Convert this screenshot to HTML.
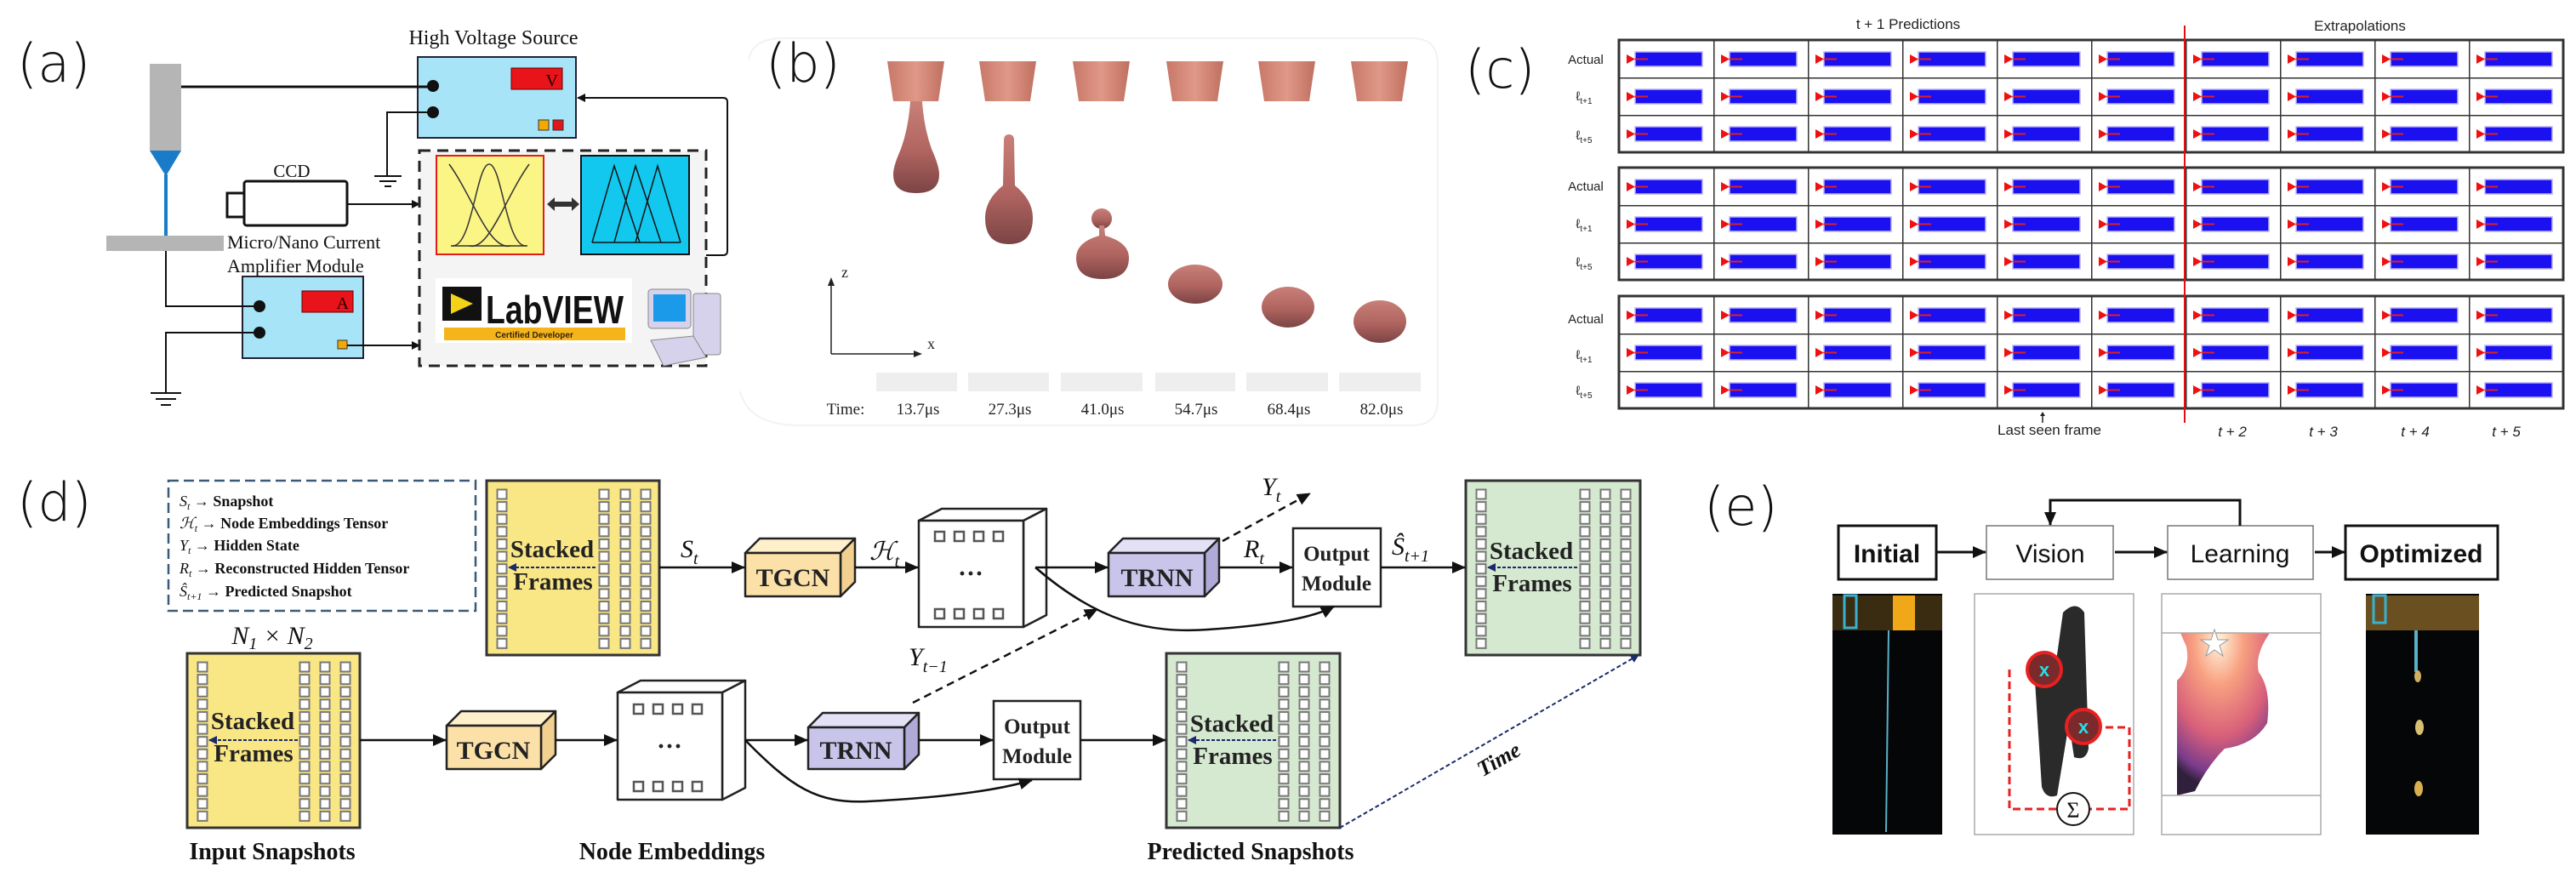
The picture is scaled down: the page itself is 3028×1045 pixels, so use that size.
<!DOCTYPE html>
<html><head><meta charset="utf-8"><style>
html,body{margin:0;padding:0;background:#fff;}
svg{display:block;}
.lab{font-family:"DejaVu Sans","Liberation Sans",sans-serif;font-size:62px;font-weight:200;fill:#111;}
.ser{font-family:"Liberation Serif",serif;}
.sans{font-family:"Liberation Sans",sans-serif;}
</style></head><body>
<svg width="3028" height="1045" viewBox="0 0 3028 1045" xmlns="http://www.w3.org/2000/svg">
<defs>
<marker id="ar" markerWidth="10" markerHeight="10" refX="9" refY="5" orient="auto" markerUnits="userSpaceOnUse"><path d="M0,0 L10,5 L0,10 z" fill="#111"/></marker>
<marker id="arB" markerWidth="16" markerHeight="14" refX="15" refY="7" orient="auto" markerUnits="userSpaceOnUse"><path d="M0,0 L16,7 L0,14 z" fill="#111"/></marker>
<marker id="arN" markerWidth="10" markerHeight="10" refX="9" refY="5" orient="auto" markerUnits="userSpaceOnUse"><path d="M0,0 L10,5 L0,10 z" fill="#1a2a6a"/></marker>
<pattern id="cellA" patternUnits="userSpaceOnUse" x="1903" y="47" width="111" height="44">
 <rect width="111" height="44" fill="#fff"/>
 <rect x="19" y="14" width="79" height="17" fill="#1a10f0" stroke="#b9b4f5" stroke-width="1.5"/>
 <path d="M9,17 L19,22.5 L9,28z" fill="#f01010"/><line x1="19" y1="22.5" x2="34" y2="22.5" stroke="#e02020" stroke-width="2"/>
 <path d="M0,0 V44 M0,0 H111" stroke="#333" stroke-width="3"/>
</pattern>
<pattern id="cellB" href="#cellA" y="197"/>
<pattern id="cellC" href="#cellA" y="348"/>
<pattern id="sq" patternUnits="objectBoundingBox" patternContentUnits="userSpaceOnUse" width="1" height="0.076923">
 <rect x="1.5" y="1.5" width="11" height="11" fill="#fff" stroke="#777" stroke-width="2"/>
</pattern>
<linearGradient id="drop" x1="0" y1="0" x2="0" y2="1"><stop offset="0" stop-color="#c88078"/><stop offset="0.55" stop-color="#b06460"/><stop offset="1" stop-color="#7a4444"/></linearGradient>
<linearGradient id="noz" x1="0" y1="0" x2="1" y2="0"><stop offset="0" stop-color="#c87868"/><stop offset="0.5" stop-color="#e09888"/><stop offset="1" stop-color="#c07060"/></linearGradient>
<radialGradient id="heat" cx="0.45" cy="0.05" r="0.9"><stop offset="0" stop-color="#fff4dc"/><stop offset="0.3" stop-color="#f8a080"/><stop offset="0.65" stop-color="#d8607a"/><stop offset="0.9" stop-color="#7a3c8c"/><stop offset="1" stop-color="#30203c"/></radialGradient>
</defs>

<!-- ================= (a) ================= -->
<text class="lab" x="20" y="96">(a)</text>
<text class="ser" x="580" y="52" font-size="24" text-anchor="middle" fill="#111">High Voltage Source</text>
<rect x="491" y="67" width="186" height="95" fill="#a8e4f8" stroke="#223" stroke-width="2"/>
<rect x="601" y="80" width="60" height="25" fill="#e8141a" stroke="#600" stroke-width="1"/>
<text class="ser" x="656" y="101" font-size="20" text-anchor="end" fill="#200">V</text>
<circle cx="509" cy="101" r="7" fill="#111"/><circle cx="509" cy="132" r="7" fill="#111"/>
<rect x="633" y="141" width="12" height="12" fill="#f5a800" stroke="#333"/><rect x="650" y="141" width="12" height="12" fill="#e01818" stroke="#333"/>
<rect x="176" y="75" width="37" height="102" fill="#b5b5b5"/>
<path d="M176,177 L213,177 L195,207z" fill="#1a7cc8"/>
<line x1="195" y1="205" x2="195" y2="278" stroke="#1a7cc8" stroke-width="4"/>
<rect x="125" y="277" width="138" height="18" fill="#b5b5b5"/>
<path d="M213,102 H509" stroke="#111" stroke-width="3" fill="none"/>
<path d="M509,132 H455 V207" stroke="#111" stroke-width="2" fill="none"/>
<path d="M440,207 H472 M446,213 H466 M452,219 H460" stroke="#111" stroke-width="2"/>
<text class="ser" x="343" y="208" font-size="21" text-anchor="middle" fill="#111">CCD</text>
<rect x="287" y="213" width="121" height="52" rx="3" fill="#fff" stroke="#111" stroke-width="3"/>
<rect x="267" y="227" width="20" height="28" fill="#fff" stroke="#111" stroke-width="3"/>
<line x1="408" y1="240" x2="493" y2="240" stroke="#111" stroke-width="2" marker-end="url(#ar)"/>
<rect x="493" y="177" width="337" height="253" fill="#f4f4f4" stroke="#222" stroke-width="3" stroke-dasharray="13,8"/>
<rect x="513" y="183" width="126" height="116" fill="#fbf585" stroke="#e31b1b" stroke-width="2"/>
<g stroke="#333" stroke-width="1.5" fill="none">
<path d="M528,193 C555,230 575,295 600,289"/><path d="M552,289 C575,295 595,230 622,193"/>
<path d="M532,289 C555,290 560,193 575,193 C590,193 595,290 618,289"/><path d="M530,289 H620"/>
</g>
<path d="M643,240 L652,232 V237 H672 V232 L681,240 L672,248 V243 H652 V248z" fill="#333"/>
<rect x="683" y="183" width="127" height="116" fill="#12c8ee" stroke="#111" stroke-width="2"/>
<g stroke="#111" stroke-width="1.5" fill="none">
<path d="M696,285 L722,195 L752,285 M722,285 L747,195 L777,285 M747,285 L773,195 L800,285 M696,285 H800"/>
</g>
<path d="M830,300 H850 Q855,300 855,295 V120 Q855,115 850,115 H679" stroke="#111" stroke-width="2" fill="none" marker-end="url(#ar)"/>
<rect x="512" y="327" width="231" height="76" fill="#fff"/>
<rect x="520" y="337" width="46" height="40" fill="#111"/>
<path d="M530,345 L556,357 L530,369z" fill="#f3d21a"/>
<text class="sans" x="571" y="380" font-size="46" font-weight="bold" fill="#111" textLength="162" lengthAdjust="spacingAndGlyphs">LabVIEW</text>
<rect x="522" y="385" width="213" height="15" fill="#f5b51a"/>
<text class="sans" x="628" y="397" font-size="10" font-weight="bold" text-anchor="middle" fill="#321">Certified Developer</text>
<rect x="762" y="340" width="50" height="46" rx="4" fill="#d6d2ec" stroke="#888"/>
<rect x="768" y="346" width="38" height="32" fill="#1a9ae8"/>
<rect x="815" y="345" width="32" height="72" rx="3" fill="#d6d2ec" stroke="#888"/>
<path d="M765,400 L815,395 L830,420 L780,430z" fill="#d6d2ec" stroke="#888"/>
<text class="ser" x="267" y="292" font-size="22" fill="#111">Micro/Nano Current</text>
<text class="ser" x="267" y="320" font-size="22" fill="#111">Amplifier Module</text>
<rect x="285" y="325" width="142" height="96" fill="#a8e4f8" stroke="#223" stroke-width="2"/>
<rect x="355" y="342" width="60" height="25" fill="#e8141a" stroke="#600"/>
<text class="ser" x="410" y="363" font-size="20" text-anchor="end" fill="#200">A</text>
<circle cx="305" cy="360" r="7" fill="#111"/><circle cx="305" cy="391" r="7" fill="#111"/>
<rect x="397" y="400" width="11" height="10" fill="#f5a800" stroke="#333"/>
<line x1="408" y1="406" x2="493" y2="406" stroke="#111" stroke-width="2" marker-end="url(#ar)"/>
<path d="M195,295 V360 H305" stroke="#111" stroke-width="2" fill="none"/>
<path d="M305,391 H195 V462" stroke="#111" stroke-width="2" fill="none"/>
<path d="M177,462 H213 M183,469 H207 M189,476 H201" stroke="#111" stroke-width="2"/>

<!-- ================= (b) ================= -->
<text class="lab" x="900" y="96">(b)</text>
<path d="M880,70 Q885,45 920,45 L1660,45 Q1690,45 1690,75 L1690,470 Q1690,500 1660,500 L940,500 Q880,500 870,460" fill="none" stroke="#f2f2f2" stroke-width="2"/>
<g fill="url(#noz)">
<path d="M1043,72 H1110 L1103,119 H1050z"/>
<path d="M1151,72 H1218 L1211,119 H1158z"/>
<path d="M1261,72 H1328 L1321,119 H1268z"/>
<path d="M1371,72 H1438 L1431,119 H1378z"/>
<path d="M1479,72 H1546 L1539,119 H1486z"/>
<path d="M1588,72 H1655 L1648,119 H1595z"/>
</g>
<g fill="url(#drop)">
<path d="M1070,119 H1084 Q1086,150 1095,175 Q1104,195 1104,205 Q1104,227 1077,227 Q1050,227 1050,205 Q1050,195 1059,175 Q1068,150 1070,119z"/>
<path d="M1180,165 Q1180,158 1186,158 Q1192,158 1192,165 L1193,218 Q1214,235 1214,256 Q1214,287 1186,287 Q1158,287 1158,256 Q1158,235 1179,218z"/>
<ellipse cx="1295" cy="257" rx="12" ry="12"/>
<path d="M1292,265 H1298 L1299,277 Q1327,285 1327,303 Q1327,328 1296,328 Q1265,328 1265,303 Q1265,285 1292,277z"/>
<ellipse cx="1405" cy="334" rx="32" ry="23"/>
<ellipse cx="1514" cy="361" rx="31" ry="24"/>
<ellipse cx="1622" cy="378" rx="31" ry="25"/>
</g>
<path d="M977,416 V330 M977,416 H1080" stroke="#222" stroke-width="1.5" fill="none"/>
<path d="M973,336 L977,326 L981,336z M1074,412 L1084,416 L1074,420z" fill="#222"/>
<text class="ser" x="989" y="326" font-size="18" fill="#222">z</text>
<text class="ser" x="1090" y="410" font-size="18" fill="#222">x</text>
<g fill="#eeeeee">
<rect x="1030" y="438" width="95" height="22"/><rect x="1138" y="438" width="95" height="22"/><rect x="1247" y="438" width="96" height="22"/>
<rect x="1358" y="438" width="94" height="22"/><rect x="1465" y="438" width="96" height="22"/><rect x="1574" y="438" width="96" height="22"/>
</g>
<g class="ser" font-size="19" fill="#222" text-anchor="middle">
<text x="994" y="487">Time:</text>
<text x="1079" y="487">13.7μs</text><text x="1187" y="487">27.3μs</text><text x="1296" y="487">41.0μs</text>
<text x="1406" y="487">54.7μs</text><text x="1515" y="487">68.4μs</text><text x="1624" y="487">82.0μs</text>
</g>

<!-- ================= (c) ================= -->
<text class="lab" x="1722" y="103">(c)</text>
<g class="sans" font-size="17" fill="#222" text-anchor="middle">
<text x="2243" y="34">t + 1 Predictions</text>
<text x="2774" y="36">Extrapolations</text>
<text x="2409" y="511">Last seen frame</text>
<text x="2624" y="513" font-style="italic">t + 2</text><text x="2731" y="513" font-style="italic">t + 3</text>
<text x="2839" y="513" font-style="italic">t + 4</text><text x="2946" y="513" font-style="italic">t + 5</text>
</g>
<g class="sans" font-size="15" fill="#222" text-anchor="middle">
<text x="1864" y="75">Actual</text><text x="1862" y="118">ℓ<tspan font-size="10" dy="4">t+1</tspan></text><text x="1862" y="164">ℓ<tspan font-size="10" dy="4">t+5</tspan></text>
<text x="1864" y="224">Actual</text><text x="1862" y="268">ℓ<tspan font-size="10" dy="4">t+1</tspan></text><text x="1862" y="313">ℓ<tspan font-size="10" dy="4">t+5</tspan></text>
<text x="1864" y="380">Actual</text><text x="1862" y="422">ℓ<tspan font-size="10" dy="4">t+1</tspan></text><text x="1862" y="464">ℓ<tspan font-size="10" dy="4">t+5</tspan></text>
</g>
<rect x="1903" y="47" width="1110" height="132" fill="url(#cellA)" stroke="#333" stroke-width="3"/>
<rect x="1903" y="197" width="1110" height="132" fill="url(#cellB)" stroke="#333" stroke-width="3"/>
<rect x="1903" y="348" width="1110" height="132" fill="url(#cellC)" stroke="#333" stroke-width="3"/>
<line x1="2568" y1="30" x2="2568" y2="497" stroke="#e01010" stroke-width="2"/>
<line x1="2401" y1="497" x2="2401" y2="486" stroke="#222" stroke-width="1.5"/><path d="M2398,489 L2401,484 L2404,489z" fill="#222"/>

<!-- ================= (d) ================= -->
<text class="lab" x="20" y="612">(d)</text>
<rect x="198" y="565" width="361" height="153" fill="#fff" stroke="#3c5a78" stroke-width="2.5" stroke-dasharray="12,6"/>
<g class="ser" font-size="18" font-weight="bold" fill="#111">
<text x="211" y="595"><tspan font-style="italic" font-weight="normal">S<tspan font-size="12" dy="4">t</tspan></tspan><tspan dy="-4"> → Snapshot</tspan></text>
<text x="211" y="621"><tspan font-style="italic" font-weight="normal">ℋ<tspan font-size="12" dy="4">t</tspan></tspan><tspan dy="-4"> → Node Embeddings  Tensor</tspan></text>
<text x="211" y="647"><tspan font-style="italic" font-weight="normal">Y<tspan font-size="12" dy="4">t</tspan></tspan><tspan dy="-4"> → Hidden  State</tspan></text>
<text x="211" y="674"><tspan font-style="italic" font-weight="normal">R<tspan font-size="12" dy="4">t</tspan></tspan><tspan dy="-4"> → Reconstructed  Hidden  Tensor</tspan></text>
<text x="211" y="701"><tspan font-style="italic" font-weight="normal">Ŝ<tspan font-size="12" dy="4">t+1</tspan></tspan><tspan dy="-4"> → Predicted  Snapshot</tspan></text>
</g>

<rect x="572" y="565" width="203" height="205" fill="#f9e685" stroke="#333" stroke-width="3"/>
<rect x="583" y="574" width="14" height="190" fill="url(#sq)"/><rect x="703" y="574" width="14" height="190" fill="url(#sq)"/>
<rect x="728" y="574" width="14" height="190" fill="url(#sq)"/><rect x="752" y="574" width="14" height="190" fill="url(#sq)"/>
<rect x="220" y="768" width="203" height="205" fill="#f9e685" stroke="#333" stroke-width="3"/>
<rect x="231" y="777" width="14" height="190" fill="url(#sq)"/><rect x="351" y="777" width="14" height="190" fill="url(#sq)"/>
<rect x="375" y="777" width="14" height="190" fill="url(#sq)"/><rect x="399" y="777" width="14" height="190" fill="url(#sq)"/>
<rect x="1723" y="565" width="205" height="205" fill="#d5e8d0" stroke="#333" stroke-width="3"/>
<rect x="1734" y="574" width="14" height="190" fill="url(#sq)"/><rect x="1856" y="574" width="14" height="190" fill="url(#sq)"/>
<rect x="1880" y="574" width="14" height="190" fill="url(#sq)"/><rect x="1904" y="574" width="14" height="190" fill="url(#sq)"/>
<rect x="1371" y="768" width="204" height="205" fill="#d5e8d0" stroke="#333" stroke-width="3"/>
<rect x="1382" y="777" width="14" height="190" fill="url(#sq)"/><rect x="1502" y="777" width="14" height="190" fill="url(#sq)"/>
<rect x="1526" y="777" width="14" height="190" fill="url(#sq)"/><rect x="1550" y="777" width="14" height="190" fill="url(#sq)"/>
<g class="ser" font-size="29" font-weight="bold" fill="#222" text-anchor="middle">
<text x="649" y="655">Stacked</text><text x="650" y="693">Frames</text>
<text x="297" y="857">Stacked</text><text x="298" y="895">Frames</text>
<text x="1800" y="657">Stacked</text><text x="1801" y="695">Frames</text>
<text x="1448" y="860">Stacked</text><text x="1449" y="898">Frames</text>
</g>
<g stroke="#1a2a6a" stroke-width="2" stroke-dasharray="4,2" marker-end="url(#arN)">
<line x1="700" y1="667" x2="598" y2="667"/><line x1="350" y1="870" x2="246" y2="870"/>
<line x1="1854" y1="667" x2="1749" y2="667"/><line x1="1500" y1="870" x2="1397" y2="870"/>
</g>
<text class="ser" x="320" y="757" font-size="30" font-style="italic" fill="#111" text-anchor="middle">N<tspan font-size="20" dy="6">1</tspan><tspan dy="-6"> × N</tspan><tspan font-size="20" dy="6">2</tspan></text>

<g stroke="#222" stroke-width="2.5" stroke-linejoin="round">
<path d="M876,650 L893,633 H1005 L988,650z" fill="#fff0cc"/><path d="M988,650 L1005,633 V684 L988,701z" fill="#f2d090"/><rect x="876" y="650" width="112" height="51" fill="#fbe0a8"/>
<path d="M525,853 L542,836 H653 L636,853z" fill="#fff0cc"/><path d="M636,853 L653,836 V887 L636,904z" fill="#f2d090"/><rect x="525" y="853" width="111" height="51" fill="#fbe0a8"/>
<path d="M1303,650 L1320,633 H1433 L1416,650z" fill="#e4e0f6"/><path d="M1416,650 L1433,633 V684 L1416,701z" fill="#b0aad8"/><rect x="1303" y="650" width="113" height="51" fill="#c8c4ea"/>
<path d="M950,855 L967,838 H1080 L1063,855z" fill="#e4e0f6"/><path d="M1063,855 L1080,838 V887 L1063,904z" fill="#b0aad8"/><rect x="950" y="855" width="113" height="49" fill="#c8c4ea"/>
<path d="M1080,612 L1107,598 H1230 L1203,612z" fill="#fff"/><path d="M1203,612 L1230,598 V723 L1203,737z" fill="#fff"/><rect x="1080" y="612" width="123" height="125" fill="#fff"/>
<path d="M726,814 L753,800 H876 L849,814z" fill="#fff"/><path d="M849,814 L876,800 V926 L849,940z" fill="#fff"/><rect x="726" y="814" width="123" height="126" fill="#fff"/>
</g>
<g fill="#fff" stroke="#555" stroke-width="2.5">
<rect x="1099" y="625" width="11" height="11"/><rect x="1122" y="625" width="11" height="11"/><rect x="1145" y="625" width="11" height="11"/><rect x="1168" y="625" width="11" height="11"/>
<rect x="1099" y="716" width="11" height="11"/><rect x="1122" y="716" width="11" height="11"/><rect x="1145" y="716" width="11" height="11"/><rect x="1168" y="716" width="11" height="11"/>
<rect x="745" y="828" width="11" height="11"/><rect x="768" y="828" width="11" height="11"/><rect x="791" y="828" width="11" height="11"/><rect x="814" y="828" width="11" height="11"/>
<rect x="745" y="919" width="11" height="11"/><rect x="768" y="919" width="11" height="11"/><rect x="791" y="919" width="11" height="11"/><rect x="814" y="919" width="11" height="11"/>
</g>
<g class="ser" font-weight="bold" fill="#222" text-anchor="middle">
<text x="932" y="689" font-size="30">TGCN</text><text x="580" y="892" font-size="30">TGCN</text>
<text x="1360" y="689" font-size="30">TRNN</text><text x="1006" y="892" font-size="30">TRNN</text>
<text x="1141" y="684" font-size="30">···</text><text x="787" y="887" font-size="30">···</text>
</g>
<rect x="1520" y="621" width="103" height="92" fill="#fff" stroke="#222" stroke-width="2.5"/>
<rect x="1168" y="824" width="102" height="92" fill="#fff" stroke="#222" stroke-width="2.5"/>
<g class="ser" font-size="25" font-weight="bold" fill="#222" text-anchor="middle">
<text x="1571" y="659">Output</text><text x="1571" y="694">Module</text>
<text x="1219" y="862">Output</text><text x="1219" y="897">Module</text>
</g>
<g stroke="#111" stroke-width="2.5" fill="none" marker-end="url(#arB)">
<line x1="775" y1="667" x2="875" y2="667"/><line x1="1005" y1="667" x2="1079" y2="667"/>
<line x1="1217" y1="667" x2="1302" y2="667"/><line x1="1433" y1="667" x2="1519" y2="667"/>
<line x1="1623" y1="667" x2="1722" y2="667"/>
<line x1="423" y1="870" x2="524" y2="870"/><line x1="653" y1="870" x2="725" y2="870"/>
<line x1="876" y1="870" x2="949" y2="870"/><line x1="1080" y1="870" x2="1167" y2="870"/>
<line x1="1270" y1="870" x2="1370" y2="870"/>
<path d="M1217,667 C1290,730 1350,745 1420,740 C1480,736 1540,728 1568,713"/>
<path d="M876,870 C930,925 960,945 1020,942 C1100,938 1170,930 1213,917"/>
</g>
<g stroke="#111" stroke-width="2.5" fill="none" stroke-dasharray="9,6" marker-end="url(#arB)">
<line x1="1437" y1="636" x2="1540" y2="580"/>
<line x1="1073" y1="826" x2="1290" y2="716"/>
</g>
<line x1="1575" y1="973" x2="1926" y2="770" stroke="#1a2a6a" stroke-width="2" stroke-dasharray="5,3" marker-end="url(#arN)"/>
<g class="ser" font-style="italic" fill="#111" font-size="30">
<text x="800" y="655">S<tspan font-size="20" dy="8">t</tspan></text>
<text x="1022" y="658">ℋ<tspan font-size="20" dy="8">t</tspan></text>
<text x="1462" y="655">R<tspan font-size="20" dy="8">t</tspan></text>
<text x="1636" y="652">Ŝ<tspan font-size="20" dy="8">t+1</tspan></text>
<text x="1483" y="582">Y<tspan font-size="20" dy="8">t</tspan></text>
<text x="1068" y="782">Y<tspan font-size="20" dy="8">t−1</tspan></text>
</g>
<text class="ser" x="1766" y="900" font-size="26" font-weight="bold" font-style="italic" fill="#111" text-anchor="middle" transform="rotate(-30 1766 900)">Time</text>
<g class="ser" font-size="28" font-weight="bold" fill="#111" text-anchor="middle">
<text x="320" y="1010">Input Snapshots</text><text x="790" y="1010">Node Embeddings</text><text x="1470" y="1010">Predicted Snapshots</text>
</g>

<!-- ================= (e) ================= -->
<text class="lab" x="2003" y="617">(e)</text>
<rect x="2161" y="618" width="115" height="63" fill="#fff" stroke="#111" stroke-width="3"/>
<rect x="2335" y="618" width="149" height="63" fill="#fff" stroke="#777" stroke-width="1.5"/>
<rect x="2548" y="618" width="171" height="63" fill="#fff" stroke="#777" stroke-width="1.5"/>
<rect x="2757" y="618" width="179" height="63" fill="#fff" stroke="#111" stroke-width="3"/>
<g class="sans" font-size="30" fill="#111" text-anchor="middle">
<text x="2218" y="661" font-weight="bold">Initial</text>
<text x="2410" y="661">Vision</text>
<text x="2633" y="661">Learning</text>
<text x="2846" y="661" font-weight="bold">Optimized</text>
</g>
<g stroke="#111" stroke-width="3" fill="none" marker-end="url(#arB)">
<line x1="2276" y1="649" x2="2334" y2="649"/><line x1="2486" y1="649" x2="2547" y2="649"/>
<line x1="2721" y1="649" x2="2756" y2="649"/>
<path d="M2633,618 V588 H2410 V617"/>
</g>
<rect x="2154" y="698" width="129" height="283" fill="#040608"/>
<rect x="2154" y="700" width="129" height="41" fill="#3a2c10"/><rect x="2225" y="700" width="26" height="41" fill="#f0a818"/>
<rect x="2168" y="700" width="14" height="38" fill="none" stroke="#3ab0d0" stroke-width="3"/>
<line x1="2220" y1="741" x2="2217" y2="978" stroke="#5ab0c8" stroke-width="2"/>
<rect x="2321" y="698" width="187" height="283" fill="#fff" stroke="#aaa" stroke-width="1.5"/>
<path d="M2425,720 Q2440,705 2450,720 L2455,880 Q2452,895 2438,890 L2432,850 L2418,935 Q2405,940 2400,925 L2392,800 Q2390,780 2410,780 L2418,770z" fill="#2a2a2a"/>
<path d="M2362,787 V951 H2425 M2450,951 H2503 V855 H2475" fill="none" stroke="#e82020" stroke-width="3" stroke-dasharray="9,5"/>
<circle cx="2403" cy="787" r="20" fill="#7a2a2a" stroke="#e82020" stroke-width="4"/><text class="sans" x="2403" y="795" font-size="22" font-weight="bold" fill="#20e0e8" text-anchor="middle">x</text>
<circle cx="2449" cy="854" r="20" fill="#7a2a2a" stroke="#e82020" stroke-width="4"/><text class="sans" x="2449" y="862" font-size="22" font-weight="bold" fill="#20e0e8" text-anchor="middle">x</text>
<circle cx="2437" cy="951" r="19" fill="#fff" stroke="#111" stroke-width="2"/><text class="ser" x="2437" y="961" font-size="26" fill="#111" text-anchor="middle">Σ</text>
<rect x="2541" y="698" width="187" height="283" fill="#fff" stroke="#aaa" stroke-width="1.5"/>
<path d="M2563,744 H2668 Q2650,770 2655,790 Q2670,810 2665,850 Q2650,875 2615,880 Q2595,900 2580,930 L2559,935 L2559,800 Q2575,785 2570,760z" fill="url(#heat)"/>
<line x1="2541" y1="744" x2="2728" y2="744" stroke="#aaa" stroke-width="1.5"/><line x1="2541" y1="935" x2="2728" y2="935" stroke="#aaa" stroke-width="1.5"/>
<path d="M2603,740 L2607,752 L2619,752 L2609,759 L2613,771 L2603,764 L2593,771 L2597,759 L2587,752 L2599,752z" fill="#fff" stroke="#999"/>
<rect x="2781" y="698" width="133" height="283" fill="#040608"/>
<rect x="2781" y="700" width="133" height="41" fill="#6a5020"/>
<rect x="2790" y="700" width="14" height="32" fill="none" stroke="#3ab0d0" stroke-width="3"/>
<line x1="2840" y1="741" x2="2840" y2="790" stroke="#5ab0c8" stroke-width="4"/>
<ellipse cx="2842" cy="795" rx="4" ry="7" fill="#d0b060"/><ellipse cx="2844" cy="855" rx="5" ry="9" fill="#d8c070"/><ellipse cx="2843" cy="927" rx="5" ry="9" fill="#d8b050"/>
</svg>
</body></html>
